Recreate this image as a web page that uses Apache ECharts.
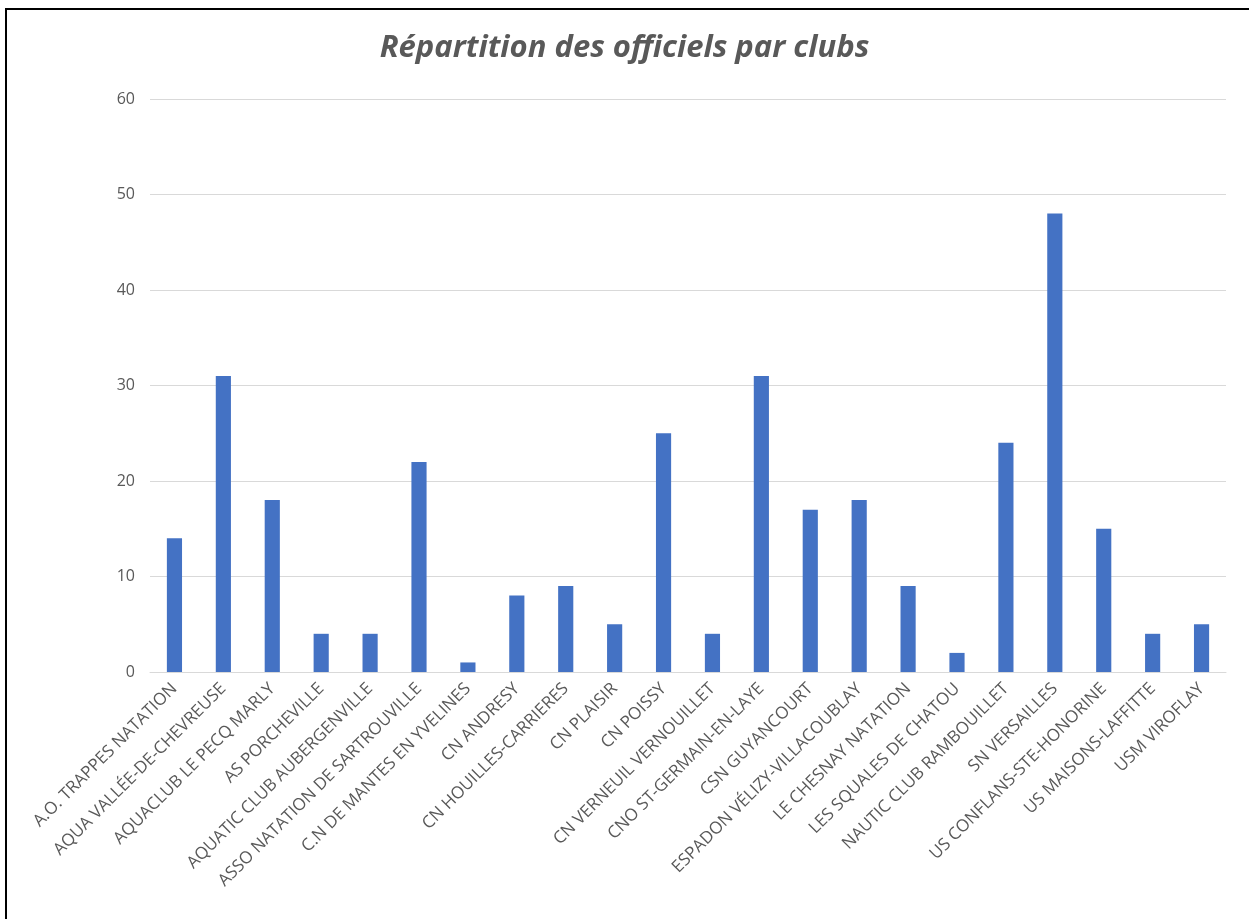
<!DOCTYPE html>
<html>
<head>
<meta charset="utf-8">
<script src="https://cdn.jsdelivr.net/npm/echarts@6/dist/echarts.min.js"></script>
<style>
html,body{margin:0;padding:0;background:#fff;}
#c{width:1249px;height:919px;}
</style>
</head>
<body>
<div id="c"></div>
<script>
const categories = [
  "A.O. TRAPPES NATATION",
  "AQUA VALLÉE-DE-CHEVREUSE",
  "AQUACLUB LE PECQ MARLY",
  "AS PORCHEVILLE",
  "AQUATIC CLUB AUBERGENVILLE",
  "ASSO NATATION DE SARTROUVILLE",
  "C.N DE MANTES EN YVELINES",
  "CN ANDRESY",
  "CN HOUILLES-CARRIERES",
  "CN PLAISIR",
  "CN POISSY",
  "CN VERNEUIL VERNOUILLET",
  "CNO ST-GERMAIN-EN-LAYE",
  "CSN GUYANCOURT",
  "ESPADON VÉLIZY-VILLACOUBLAY",
  "LE CHESNAY NATATION",
  "LES SQUALES DE CHATOU",
  "NAUTIC CLUB RAMBOUILLET",
  "SN VERSAILLES",
  "US CONFLANS-STE-HONORINE",
  "US MAISONS-LAFFITTE",
  "USM VIROFLAY"
];
const values = [14, 31, 18, 4, 4, 22, 1, 8, 9, 5, 25, 4, 31, 17, 18, 9, 2, 24, 48, 15, 4, 5];
const titleText = "Répartition des officiels par clubs";

const chart = echarts.init(document.getElementById('c'));
chart.setOption({
  animation: false,
  backgroundColor: '#ffffff',
  title: {
    text: titleText,
    left: 'center',
    top: 28,
    textStyle: {
      fontFamily: 'Open Sans, Noto Sans, sans-serif',
      fontStyle: 'italic',
      fontWeight: 'bold',
      fontSize: 31,
      color: '#595959'
    }
  },
  grid: { left: 150, right: 23, top: 99, bottom: 247 },
  xAxis: {
    type: 'category',
    data: categories,
    axisTick: { show: false },
    axisLine: { lineStyle: { color: '#d9d9d9', width: 1 } },
    axisLabel: {
      rotate: 45,
      interval: 0,
      fontSize: 17,
      color: '#595959',
      fontFamily: 'Open Sans, Noto Sans, sans-serif',
      margin: 14
    }
  },
  yAxis: {
    type: 'value',
    min: 0,
    max: 60,
    interval: 10,
    axisLine: { show: false },
    axisTick: { show: false },
    axisLabel: {
      fontSize: 16,
      color: '#595959',
      fontFamily: 'Open Sans, Noto Sans, sans-serif',
      margin: 15
    },
    splitLine: { lineStyle: { color: '#d9d9d9', width: 1 } }
  },
  series: [{
    type: 'bar',
    data: values,
    barWidth: '31%',
    itemStyle: { color: '#4472C4' }
  }],
  graphic: [
    { type: 'line', shape: { x1: 5, y1: 9, x2: 1249, y2: 9 }, style: { stroke: '#000', lineWidth: 2 } },
    { type: 'line', shape: { x1: 6, y1: 8, x2: 6, y2: 919 }, style: { stroke: '#000', lineWidth: 2 } }
  ]
});
</script>
</body>
</html>
